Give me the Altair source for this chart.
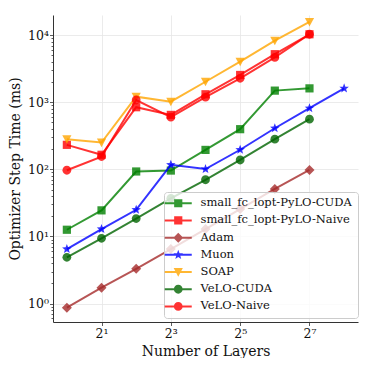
import altair as alt
import pandas as pd
import numpy as np

# ---------------- data ----------------
layers = [1, 2, 4, 8, 16, 32, 64, 128]
muon_layers = [1, 2, 4, 8, 16, 32, 64, 128, 256]

series_names = [
    "small_fc_lopt-PyLO-CUDA",
    "small_fc_lopt-PyLO-Naive",
    "Adam",
    "Muon",
    "SOAP",
    "VeLO-CUDA",
    "VeLO-Naive",
]
lopt_cuda = [12.6, 24.5, 93, 96, 195, 397, 1490, 1610]
lopt_naive = [232, 165, 843, 648, 1315, 2550, 5200, 10300]
adam = [0.87, 1.73, 3.3, 6.5, 12.9, 25.6, 51, 98]
muon = [6.5, 12.9, 25, 117, 101, 196, 410, 815, 1610]
soap = [282, 251, 1210, 1020, 2020, 4020, 8260, 15700]
velo_cuda = [4.9, 9.4, 18.5, 37, 70, 138, 282, 560]
velo_naive = [97, 155, 1080, 600, 1190, 2270, 4660, 10300]

series_values = [lopt_cuda, lopt_naive, adam, muon, soap, velo_cuda, velo_naive]
series_x = [layers, layers, layers, muon_layers, layers, layers, layers]

colors = ["#008000", "#ff0000", "#a52a2a", "#0000ff", "#ffa500", "#006400", "#ff0000"]
markers = ["square", "square", "diamond", "star", "tri_down", "circle", "circle"]

# ---------------- marker paths (style) ----------------
def star_path(ro=1.0, ri=0.42):
    pts = []
    for i in range(10):
        r = ro if i % 2 == 0 else ri
        a = -np.pi / 2 + i * np.pi / 5
        pts.append(f"{r*np.cos(a):.3f},{r*np.sin(a):.3f}")
    return "M" + "L".join(pts) + "Z"

marker_paths = {
    "square": "M-0.82,-0.82H0.82V0.82H-0.82Z",
    "circle": "M-0.88,0A0.88,0.88 0 1,1 0.88,0A0.88,0.88 0 1,1 -0.88,0Z",
    "diamond": "M0,-1.0L1.0,0L0,1.0L-1.0,0Z",
    "tri_down": "M-0.92,-0.8L0.92,-0.8L0,0.92Z",
    "star": star_path(),
}
line_stub = "M-2.7,-0.2H2.7V0.2H-2.7Z"
legend_paths = [line_stub + marker_paths[m] for m in markers]

rows = []
for name, xs, vals in zip(series_names, series_x, series_values):
    for x, v in zip(xs, vals):
        rows.append({"series": name, "layers": x, "time": v})
df = pd.DataFrame(rows)

FONT = "DejaVu Serif"

decade_test = "abs(log(datum.value)/LN10 - round(log(datum.value)/LN10)) < 0.001"
y_label_expr = (
    f"({decade_test}) ? '10' + substring('⁰¹²³⁴⁵⁶⁷⁸⁹', round(log(datum.value)/LN10), "
    "round(log(datum.value)/LN10)+1) : ''"
)
x_label_expr = (
    "'2' + substring('⁰¹²³⁴⁵⁶⁷⁸⁹', round(log(datum.value)/LN2), round(log(datum.value)/LN2)+1)"
)

y_ticks = [m * 10.0 ** e for e in range(-1, 4) for m in range(1, 10) if 0.55 < m * 10.0 ** e <= 10000] + [10000.0]
y_ticks = sorted(set(y_ticks))
x_ticks = [2, 8, 32, 128]

x_enc = alt.X(
    "layers:Q",
    scale=alt.Scale(type="log", base=2, domain=[2 ** -0.4, 2 ** 8.4], nice=False),
    axis=alt.Axis(
        title="Number of Layers",
        values=x_ticks,
        labelExpr=x_label_expr,
        grid=True,
        tickSize=3.5,
        labelPadding=2,
        titlePadding=4,
    ),
)
y_enc = alt.Y(
    "time:Q",
    scale=alt.Scale(type="log", domain=[0.532, 19950], nice=False),
    axis=alt.Axis(
        title="Optimizer Step Time (ms)",
        values=y_ticks,
        labelExpr=y_label_expr,
        tickSize={"condition": {"test": decade_test, "value": 3.5}, "value": 2},
        gridOpacity={"condition": {"test": decade_test, "value": 1}, "value": 0},
        labelPadding=1,
        titlePadding=5,
    ),
)
color_scale = alt.Scale(domain=series_names, range=colors)

base = alt.Chart(df)
layers_list = []
for name, c, m in zip(series_names, colors, markers):
    sub = base.transform_filter(alt.datum.series == name)
    layers_list.append(
        sub.mark_line(strokeWidth=2, opacity=0.8, color=c).encode(x=x_enc, y=y_enc)
    )
    layers_list.append(
        sub.mark_point(filled=True, size=100, opacity=0.8, shape=marker_paths[m], color=c).encode(
            x=x_enc, y=y_enc
        )
    )

legend_def = dict(
    title=None,
    orient="none",
    legendX=111,
    legendY=177,
    symbolSize=100,
    symbolStrokeWidth=0,
    symbolOpacity=0.8,
    symbolOffset=3,
    labelOffset=16.5,
    labelFont=FONT,
    labelFontSize=11.5,
    labelColor="#111111",
    labelLimit=300,
    rowPadding=4.2,
    padding=5.5,
    cornerRadius=3,
    strokeColor="#cccccc",
    fillColor="rgba(255,255,255,0.8)",
)
legend_layer = base.transform_filter("false").mark_point(filled=True).encode(
    x=x_enc,
    y=y_enc,
    color=alt.Color("series:N", scale=color_scale, legend=alt.Legend(**legend_def)),
    shape=alt.Shape(
        "series:N",
        scale=alt.Scale(domain=series_names, range=legend_paths),
        legend=alt.Legend(**legend_def),
    ),
)
layers_list.append(legend_layer)

cfg_legend = {k: v for k, v in legend_def.items() if k not in ("title", "legendX", "legendY", "orient")}

chart = (
    alt.layer(*layers_list)
    .properties(width=305, height=307, padding={"left": 0, "top": 7, "right": 0, "bottom": 0})
    .configure_view(stroke=None)
    .configure_legend(**cfg_legend)
    .configure_axis(
        labelFont=FONT,
        titleFont=FONT,
        labelFontSize=12.5,
        titleFontSize=14,
        titleFontWeight="normal",
        labelColor="#111111",
        titleColor="#111111",
        domainColor="#333333",
        domainWidth=1,
        tickColor="#333333",
        tickWidth=0.8,
        gridColor="#e6e6e6",
        gridWidth=0.8,
    )
)

chart.save("out.html", embed_options={"renderer": "svg", "actions": False})
